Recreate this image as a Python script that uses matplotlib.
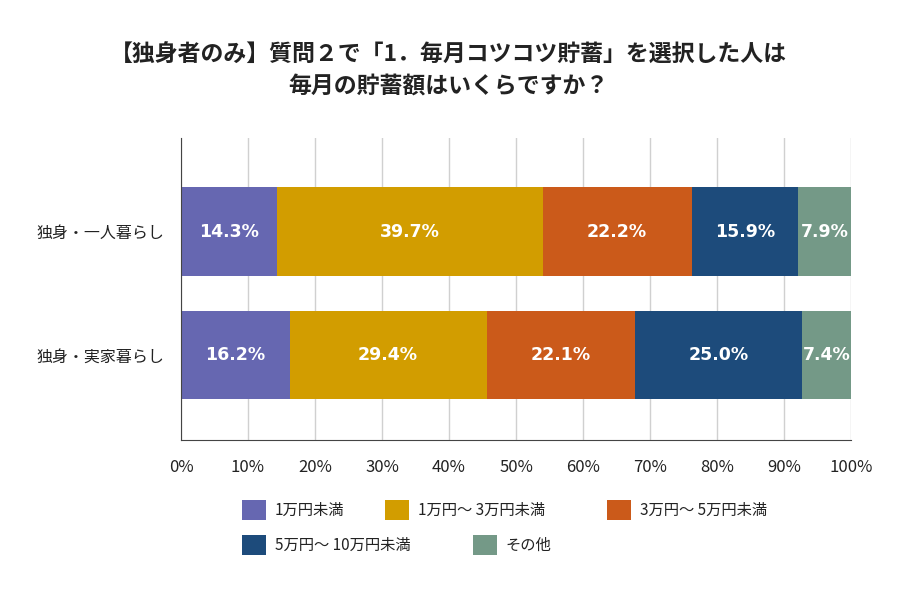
import matplotlib
matplotlib.use("Agg")
import matplotlib.pyplot as plt
import numpy as np

plt.rcParams['font.family'] = ['Noto Sans CJK JP', 'DejaVu Sans']

groups = ["独身・一人暮らし", "独身・実家暮らし"]
categories = ["1万円未満", "1万円～ 3万円未満", "3万円～ 5万円未満", "5万円～ 10万円未満", "その他"]
values = {
    "1万円未満": [14.3, 16.2],
    "1万円～ 3万円未満": [39.7, 29.4],
    "3万円～ 5万円未満": [22.2, 22.1],
    "5万円～ 10万円未満": [15.9, 25.0],
    "その他": [7.9, 7.4],
}
colors = ["#6667b1", "#d29d00", "#cb5a1a", "#1d4b7b", "#749987"]
xticks = [0, 10, 20, 30, 40, 50, 60, 70, 80, 90, 100]

fig = plt.figure(figsize=(9, 6), dpi=100)
ax = fig.add_axes([181 / 900, 1 - 440 / 600, 670 / 900, 302 / 600])

y = np.arange(len(groups))
left = np.zeros(len(groups))
handles = []
for cat, col in zip(categories, colors):
    vals = np.array(values[cat])
    bars = ax.barh(y, vals, left=left, height=0.72, color=col, edgecolor='none', zorder=3)
    handles.append(bars)
    for yi, (l, v) in enumerate(zip(left, vals)):
        ax.text(l + v / 2, yi, f"{v:.1f}%", ha='center', va='center',
                color='white', fontsize=12.5, fontweight='bold',
                family=['DejaVu Sans'], zorder=4)
    left += vals

ax.set_xlim(0, 100)
ax.set_ylim(1.688, -0.757)
ax.set_xticks(xticks)
ax.set_xticklabels([f"{t}%" for t in xticks], fontsize=12, color='#222222')
ax.set_yticks(y)
ax.set_yticklabels(groups, fontsize=11.5, color='#222222')
ax.tick_params(axis='both', length=0)
ax.tick_params(axis='x', pad=14)
ax.tick_params(axis='y', pad=12)
ax.grid(axis='x', color='#d0d0d0', linewidth=1, zorder=0)
for s in ['top', 'right']:
    ax.spines[s].set_visible(False)
ax.spines['left'].set_color('#444444')
ax.spines['bottom'].set_color('#444444')
ax.spines['left'].set_zorder(5)

fig.text(0.498, 1 - 55 / 600, "【独身者のみ】質問２で「1．毎月コツコツ貯蓄」を選択した人は",
         ha='center', va='center', fontsize=16.5, fontweight='bold', color='#222222')
fig.text(0.498, 1 - 86 / 600, "毎月の貯蓄額はいくらですか？",
         ha='center', va='center', fontsize=16.5, fontweight='bold', color='#222222')

# legend entries placed like a flowing html legend
legend_pos = [(242, 510), (385, 510), (607, 510), (242, 545), (473, 545)]
for h, cat, (px, py) in zip(handles, categories, legend_pos):
    leg = fig.legend([h], [cat], loc='center left',
                     bbox_to_anchor=(px / 900, 1 - py / 600),
                     frameon=False, fontsize=11, borderpad=0, borderaxespad=0,
                     handlelength=1.55, handleheight=1.55, handletextpad=0.6)
    for t in leg.get_texts():
        t.set_color('#222222')

fig.savefig("out.png", dpi=100)
